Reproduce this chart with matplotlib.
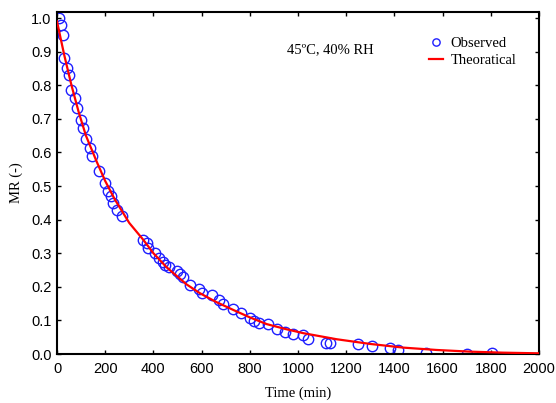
import numpy as np
import matplotlib
matplotlib.use("Agg")
import matplotlib.pyplot as plt

# observed drying data (time in min, moisture ratio)
obs_time = [10, 17, 23, 30, 41, 51, 58, 75, 84, 98, 109, 120, 137, 145,
            174, 199, 210, 224, 234, 248, 268, 357, 373, 378, 407, 423,
            440, 448, 465, 498, 510, 523, 552, 589, 602, 643, 672, 689,
            730, 763, 801, 817, 838, 876, 913, 946, 979, 1021, 1041, 1116,
            1133, 1249, 1307, 1382, 1415, 1531, 1701, 1805]
obs_mr = [1.0, 0.98, 0.951, 0.881, 0.851, 0.829, 0.787, 0.763, 0.731, 0.698,
          0.674, 0.639, 0.614, 0.59, 0.544, 0.509, 0.484, 0.47, 0.45, 0.43,
          0.41, 0.34, 0.33, 0.315, 0.30, 0.285, 0.275, 0.265, 0.258, 0.246,
          0.237, 0.228, 0.205, 0.193, 0.181, 0.175, 0.16, 0.148, 0.134,
          0.121, 0.107, 0.098, 0.092, 0.088, 0.074, 0.065, 0.059, 0.056,
          0.044, 0.033, 0.033, 0.029, 0.024, 0.018, 0.012, 0.004, 0.0, 0.003]

# theoretical curve
fit_time = [0, 30, 60, 90, 120, 165, 200, 240, 300, 358, 400, 455, 538, 593,
            660, 732, 800, 870, 950, 1022, 1160, 1299, 1437, 1575, 1714,
            1851, 2000]
fit_mr = [0.99, 0.89, 0.80, 0.72, 0.65, 0.572, 0.515, 0.46, 0.39, 0.34,
          0.30, 0.258, 0.207, 0.181, 0.155, 0.131, 0.109, 0.089, 0.074,
          0.062, 0.044, 0.030, 0.019, 0.012, 0.007, 0.004, 0.002]

fig = plt.figure(figsize=(5.56, 4.03), dpi=100)
ax = fig.add_axes([57/556, 1 - 354/403, (539-57)/556, (354-12)/403])

ax.plot(obs_time, obs_mr, 'o', mfc='none', mec='#1f1fff', ms=7.5, mew=1.0,
        label='Observed', zorder=2)
ax.plot(fit_time, fit_mr, '-', color='#ff0000', lw=1.6, label='Theoratical', zorder=3)

ax.set_xlim(0, 2000)
ax.set_ylim(0, 1.018)
ax.set_xticks(np.arange(0, 2001, 200))
ax.set_yticks(np.arange(0, 1.01, 0.1))
ax.set_yticklabels([f'{v:.1f}' for v in np.arange(0, 1.01, 0.1)])

for s in ax.spines.values():
    s.set_linewidth(1.5)
ax.tick_params(direction='in', top=True, right=True, length=3, width=1,
               labelsize=10.5)
ax.tick_params(axis='x', pad=6)
ax.tick_params(axis='y', pad=4)
for lab in ax.get_xticklabels() + ax.get_yticklabels():
    lab.set_family('Liberation Sans')

ax.set_xlabel('Time (min)', family='Liberation Serif', fontsize=10.5, labelpad=7)
ax.set_ylabel('MR (-)', family='Liberation Serif', fontsize=10.5, labelpad=6)

ax.text(954, 0.905, '45ºC, 40% RH', family='Liberation Serif', fontsize=10.5,
        va='center')

leg = ax.legend(loc='upper right', bbox_to_anchor=(0.965, 0.945), frameon=False,
                prop={'family': 'Liberation Serif', 'size': 10.5},
                markerscale=0.7, handlelength=1.0, handletextpad=0.5,
                labelspacing=0.3, borderaxespad=0)

fig.savefig('out.png', dpi=100)
